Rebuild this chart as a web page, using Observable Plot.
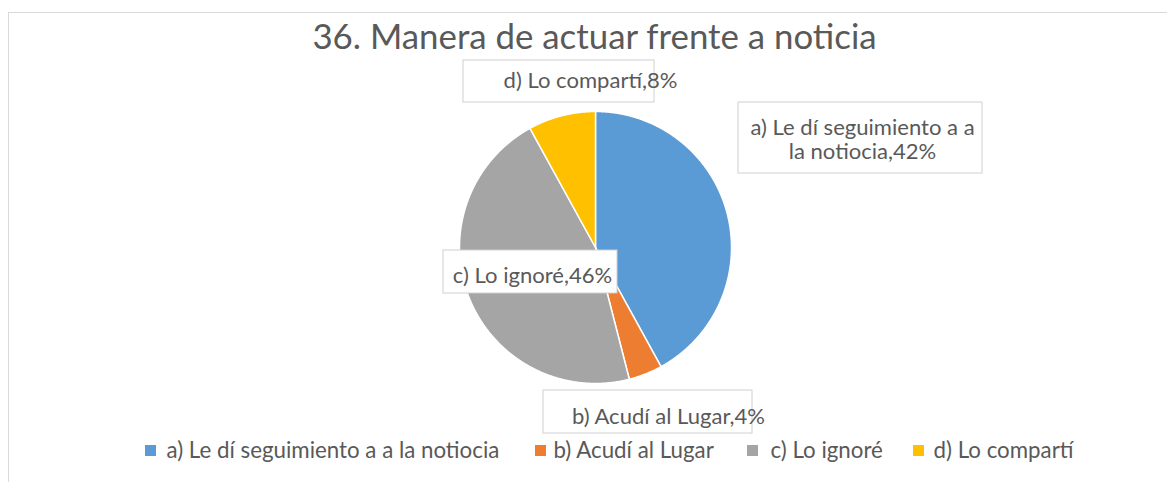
<!DOCTYPE html>
<html><head><meta charset="utf-8">
<script src="https://cdn.jsdelivr.net/npm/d3@7"></script>
<script src="https://cdn.jsdelivr.net/npm/@observablehq/plot@0.6"></script>
<style>
html,body{margin:0;padding:0;background:#fff;overflow:hidden;}
#frame{position:absolute;left:8px;top:12px;width:1200px;height:520px;border-left:1px solid #d9d9d9;border-top:1px solid #d9d9d9;}
#chart{position:absolute;left:0;top:0;}
</style></head><body>
<div id="frame"></div>
<div id="chart"></div>
<script>
// ---- data ----
const title = "36. Manera de actuar frente a noticia";
const categories = ["a) Le dí seguimiento a a la notiocia", "b) Acudí al Lugar", "c) Lo ignoré", "d) Lo compartí"];
const values = [42, 4, 46, 8];
const colors = ["#5B9BD5", "#ED7D31", "#A5A5A5", "#FFC000"];

// ---- layout (pixels) ----
const W = 1167, H = 482;
const CX = 595, CY = 247, R = 136;         // pie centre and radius in px
const FONT = "Lato, 'Open Sans', sans-serif";
const TEXT = "#595959";
// data label boxes [x1,y1,x2,y2], text centre x, first-line baseline y, wrap char index
const labelLayout = [
  {box: [738, 102, 982, 173], tx: 862, ty: 134, wrap: 24},
  {box: [543, 390, 752, 433], tx: 668, ty: 423},
  {box: [443, 250, 617, 293], tx: 532, ty: 282},
  {box: [463, 60, 654, 102], tx: 590, ty: 87}
];
const labelLineGap = 24.5;
const labelTargetW = [225, 194, 160, 173];
const legendLayout = [{sx: 145, tx: 166}, {sx: 535, tx: 553}, {sx: 747, tx: 770}, {sx: 913, tx: 933}];
const legendTargetW = [334, 162, 110, 142];
const legendBaseline = 457, swatch = 11;
const titleLayout = {x: 594, y: 48, w: 565};

// px -> pie units
const ux = px => (px - CX) / R;
const uy = py => (CY - py) / R;

// font fitting by measurement
const ctx = document.createElement("canvas").getContext("2d");
function fitSize(text, target) { ctx.font = `100px ${FONT}`; return target / ctx.measureText(text).width * 100; }

// ---- pie geometry from values ----
const total = d3.sum(values);
let acc = 0;
const piePts = [];
categories.forEach((c, i) => {
  const a0 = acc / total * 2 * Math.PI; acc += values[i];
  const a1 = acc / total * 2 * Math.PI;
  const n = Math.max(2, Math.ceil((a1 - a0) / 0.005));
  piePts.push({c, x: 0, y: 0});
  for (let k = 0; k <= n; k++) { const a = a0 + (a1 - a0) * k / n; piePts.push({c, x: Math.sin(a), y: Math.cos(a)}); }
  piePts.push({c, x: 0, y: 0});
});

// labels
const labels = categories.map((c, i) => {
  const t = `${c},${values[i]}%`;
  const L = labelLayout[i];
  const lines = L.wrap ? [t.slice(0, L.wrap), t.slice(L.wrap + 1)] : [t];
  return {c, lines, ...L};
});
const labelLines = labels.flatMap(d => d.lines.map((s, k) => ({text: s, tx: d.tx, ty: d.ty + k * labelLineGap})));
const labelSize = d3.mean(labels, (d, i) => fitSize(d.lines[0], labelTargetW[i]));
const legendSize = d3.mean(categories, (c, i) => fitSize(c, legendTargetW[i]));
const titleSize = fitSize(title, titleLayout.w);

const legendItems = categories.map((c, i) => ({c, ...legendLayout[i]}));

const plot = Plot.plot({
  width: W, height: H, margin: 0,
  x: {domain: [ux(0), ux(W)], axis: null},
  y: {domain: [uy(H), uy(0)], axis: null},
  color: {domain: categories, range: colors},
  style: {fontFamily: FONT, background: "transparent"},
  marks: [
    // title
    Plot.text([title], {x: ux(titleLayout.x), y: uy(titleLayout.y), text: d => d, fontSize: titleSize, fill: TEXT, lineAnchor: "bottom", textAnchor: "middle"}),
    // pie slices
    Plot.line(piePts, {x: "x", y: "y", z: "c", fill: "c", stroke: "white", strokeWidth: 1.5, curve: "linear"}),
    // label boxes
    Plot.rect(labels, {x1: d => ux(d.box[0]), x2: d => ux(d.box[2]), y1: d => uy(d.box[1]), y2: d => uy(d.box[3]), fill: "white", stroke: "#d0d0d0", strokeWidth: 1}),
    Plot.text(labelLines, {x: d => ux(d.tx), y: d => uy(d.ty), text: "text", fontSize: labelSize, fill: TEXT, lineAnchor: "bottom", textAnchor: "middle"}),
    // legend
    Plot.rect(legendItems, {x1: d => ux(d.sx), x2: d => ux(d.sx + swatch), y1: uy(legendBaseline - swatch - 1), y2: uy(legendBaseline - 1), fill: "c"}),
    Plot.text(legendItems, {x: d => ux(d.tx), y: uy(legendBaseline), text: "c", fontSize: legendSize, fill: TEXT, lineAnchor: "bottom", textAnchor: "start"})
  ]
});
document.getElementById("chart").appendChild(plot);
</script>
</body></html>
